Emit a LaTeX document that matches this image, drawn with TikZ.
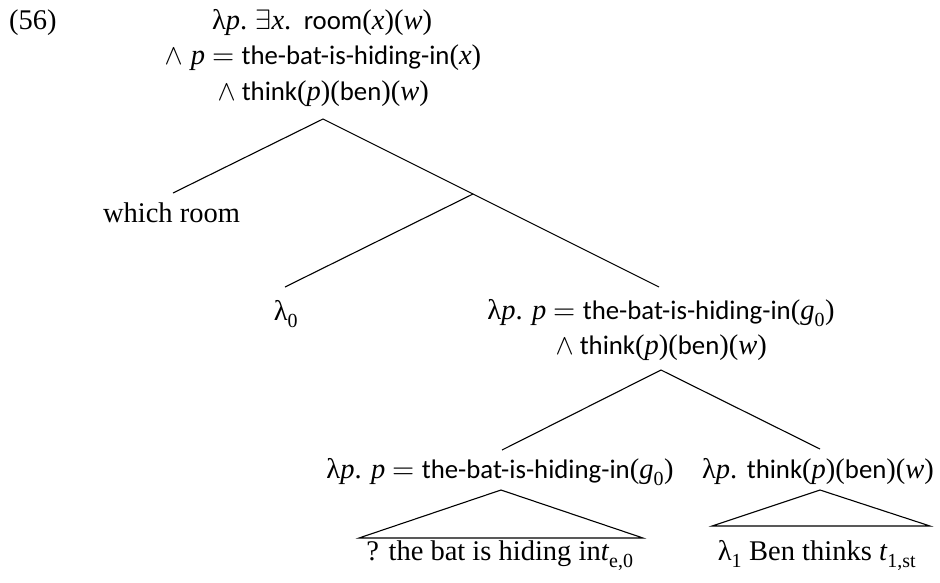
\documentclass[tikz,border=0pt]{standalone}
\usepackage{fontspec}
\usepackage{unicode-math}
\setmainfont{Liberation Serif}
\setmathfont{Latin Modern Math}
\newfontfamily\carl{Carlito}[Scale=0.94]
\newcommand\fn[1]{{\carl #1}}
\newcommand\vr[1]{\textit{#1}}
\tikzset{
  lbl/.style={anchor=base, inner sep=0pt, font=\fontsize{28.5}{34}\selectfont},
  edge/.style={line width=1.1pt}
}
\begin{document}
\begin{tikzpicture}[x=1pt,y=-1pt]
\useasboundingbox (0,0) rectangle (940,582);
% labels
\node[lbl, anchor=base west] (ex) at (9,29) {(56)};
\node[lbl] (r1) at (322,29) {λ\vr{p}.\hspace{-1pt} $\exists$\vr{x}.\hspace{3pt} \fn{room}(\vr{x})(\vr{w})};
\node[lbl] (r2) at (323,64.5) {$\wedge$ \vr{p} $=$ \fn{the-bat-is-hiding-in}(\vr{x})};
\node[lbl] (r3) at (323,100) {$\wedge$\hspace{-1.5pt} \fn{think}(\vr{p})(\fn{ben})(\vr{w})};
\node[lbl] (wr) at (171.5,222) {which room};
\node[lbl] (l0) at (286,320) {λ\textsubscript{0}};
\node[lbl] (m1) at (661,319) {λ\vr{p}. \vr{p} $=$ \fn{the-bat-is-hiding-in}(\vr{g}\textsubscript{0})};
\node[lbl] (m2) at (661,354.5) {$\wedge$\hspace{-1.5pt} \fn{think}(\vr{p})(\fn{ben})(\vr{w})};
\node[lbl] (lc) at (500,478) {λ\vr{p}. \vr{p} $=$ \fn{the-bat-is-hiding-in}(\vr{g}\textsubscript{0})};
\node[lbl] (rc) at (818,478) {λ\vr{p}. \fn{think}(\vr{p})(\fn{ben})(\vr{w})};
\node[lbl] (lb) at (500,560) {? the bat is hiding in\vr{t}\textsubscript{e,0}};
\node[lbl] (rb) at (817,560) {λ\textsubscript{1} Ben thinks \vr{t}\textsubscript{1,st}};
% attachment points
\coordinate (rA) at (323,119);
\coordinate (wrT) at (173,193);
\coordinate (iA) at (473,194);
\coordinate (l0T) at (285,287);
\coordinate (m1T) at (659,287);
\coordinate (mA) at (661,370);
\coordinate (lcT) at (502,450);
\coordinate (rcT) at (820,449);
\coordinate (ltA) at (501,490);
\coordinate (ltL) at (359,538);
\coordinate (ltR) at (643,538);
\coordinate (rtA) at (820,490);
\coordinate (rtL) at (712,526);
\coordinate (rtR) at (930,526);
% edges
\draw[edge] (wrT) -- (rA) -- (iA);
\draw[edge] (l0T) -- (iA) -- (m1T);
\draw[edge] (lcT) -- (mA) -- (rcT);
\draw[edge] (ltA) -- (ltL) -- (ltR) -- cycle;
\draw[edge] (rtA) -- (rtL) -- (rtR) -- cycle;
\end{tikzpicture}
\end{document}
